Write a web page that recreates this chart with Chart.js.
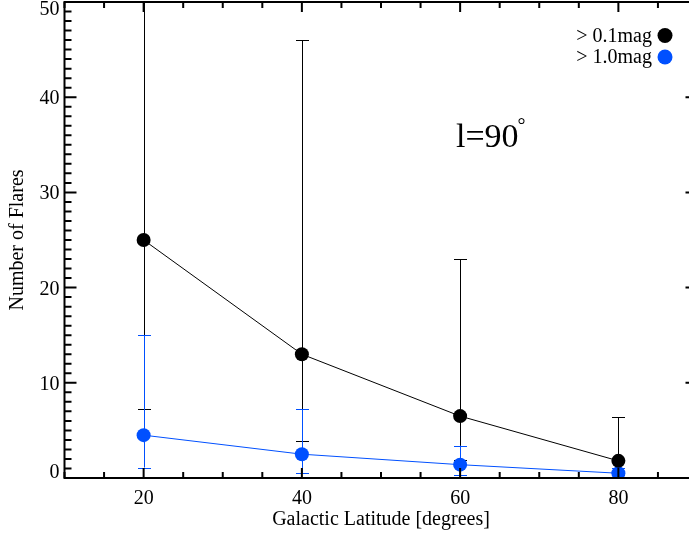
<!DOCTYPE html>
<html>
<head>
<meta charset="utf-8">
<script src="https://cdn.jsdelivr.net/npm/chart.js@4.4.0/dist/chart.umd.min.js"></script>
<style>
    body { margin: 0; overflow: hidden; background: #fff; }
</style>
</head>
<body>
<canvas id="myChart" width="712" height="533"></canvas>
<script>

var latitude = [20, 40, 60, 80];

// > 0.1 mag flares, with lower / upper ends of the error bars
var flaresSmall = [25, 13, 6.5, 1.8];
var flaresSmallLow = [7.3, 3.9, 1.9, 0.3];
var flaresSmallHigh = [60, 46, 23, 6.4];

// > 1.0 mag flares
var flaresBig = [4.5, 2.5, 1.4, 0.5];
var flaresBigLow = [1.1, 0.55, 0.3, 0];
var flaresBigHigh = [15, 7.2, 3.4, 1.0];

var seriesLabels = ['> 0.1mag', '> 1.0mag'];
var xTickValues = [20, 40, 60, 80];
var yTickValues = [0, 10, 20, 30, 40, 50];

var blue = '#0050ff';
var serif = "'Liberation Serif', 'DejaVu Serif', serif";

Chart.defaults.font.family = serif;
Chart.defaults.color = '#000';


// error bars, drawn under the markers
var errorBars = {
    id: 'errorBars',
    beforeDatasetsDraw: function (chart) {
        var ctx = chart.ctx;
        var a = chart.chartArea;
        var xs = chart.scales.x, ys = chart.scales.y;
        ctx.save();
        ctx.beginPath();
        ctx.rect(a.left, a.top, a.right - a.left, a.bottom - a.top);
        ctx.clip();
        chart.data.datasets.forEach(function (ds) {
            ctx.strokeStyle = ds.borderColor;
            ctx.lineWidth = 1;
            ctx.beginPath();
            for (var i = 0; i < ds.data.length; i++) {
                var x = Math.round(xs.getPixelForValue(latitude[i])) + 0.5;
                var lo = ys.getPixelForValue(ds.errLow[i]);
                var hi = ys.getPixelForValue(ds.errHigh[i]);
                ctx.moveTo(x, lo); ctx.lineTo(x, hi);
                ctx.moveTo(x - 6.5, Math.round(lo) + 0.5); ctx.lineTo(x + 6.5, Math.round(lo) + 0.5);
                ctx.moveTo(x - 6.5, Math.round(hi) + 0.5); ctx.lineTo(x + 6.5, Math.round(hi) + 0.5);
            }
            ctx.stroke();
        });
        ctx.restore();
    }
};


// IDL style box with inward ticks, y labels, legend and the l=90 note
var idlFrame = {
    id: 'idlFrame',
    afterDraw: function (chart) {
        var ctx = chart.ctx;
        var a = chart.chartArea;
        var xs = chart.scales.x, ys = chart.scales.y;
        var v, p, len;

        ctx.save();
        ctx.strokeStyle = '#000';
        ctx.lineWidth = 2;
        ctx.strokeRect(a.left, a.top, a.right - a.left, a.bottom - a.top);

        ctx.beginPath();
        for (v = xs.min; v <= xs.max; v += 5) {
            p = xs.getPixelForValue(v);
            len = (v % 20 === 0) ? 10 : 6;
            ctx.moveTo(p, a.bottom); ctx.lineTo(p, a.bottom - len);
            ctx.moveTo(p, a.top); ctx.lineTo(p, a.top + len);
        }
        for (v = ys.min; v <= ys.max; v += 1) {
            p = ys.getPixelForValue(v);
            len = (v % 10 === 0) ? 12 : 7;
            ctx.moveTo(a.left, p); ctx.lineTo(a.left + len, p);
            ctx.moveTo(a.right, p); ctx.lineTo(a.right - len, p);
        }
        ctx.stroke();

        // y tick labels, kept inside the frame like IDL does
        ctx.fillStyle = '#000';
        ctx.font = '20px ' + serif;
        ctx.textAlign = 'right';
        ctx.textBaseline = 'alphabetic';
        yTickValues.forEach(function (t) {
            var base = ys.getPixelForValue(t) + 7;
            base = Math.min(Math.max(base, a.top + 13), a.bottom);
            ctx.fillText(String(t), a.left - 5, base);
        });

        // legend: text then a filled circle
        var colors = chart.data.datasets.map(function (d) { return d.borderColor; });
        seriesLabels.forEach(function (lab, i) {
            var cy = 35.5 + i * 21.5;
            ctx.fillStyle = '#000';
            ctx.fillText(lab, 652, cy + 6);
            ctx.fillStyle = colors[i];
            ctx.beginPath();
            ctx.arc(665, cy, 7.5, 0, Math.PI * 2);
            ctx.fill();
        });

        ctx.fillStyle = '#000';
        ctx.textAlign = 'left';
        ctx.font = '34px ' + serif;
        ctx.fillText('l=90', 456, 147);
        ctx.font = '20px ' + serif;
        ctx.fillText('\u00b0', 517.5, 131.5);
        ctx.restore();
    }
};


var ctx = document.getElementById('myChart');
var myChart = new Chart(ctx, {
    type: 'line',
    data: {
        datasets: [{
            label: seriesLabels[0],
            data: latitude.map(function (x, i) { return { x: x, y: flaresSmall[i] }; }),
            errLow: flaresSmallLow,
            errHigh: flaresSmallHigh,
            borderColor: '#000',
            backgroundColor: '#000',
            borderWidth: 1,
            pointRadius: 7,
            pointBorderWidth: 0,
            pointBackgroundColor: '#000',
            clip: 0
        }, {
            label: seriesLabels[1],
            data: latitude.map(function (x, i) { return { x: x, y: flaresBig[i] }; }),
            errLow: flaresBigLow,
            errHigh: flaresBigHigh,
            borderColor: blue,
            backgroundColor: blue,
            borderWidth: 1,
            pointRadius: 7,
            pointBorderWidth: 0,
            pointBackgroundColor: blue,
            clip: 0
        }]
    },

    plugins: [errorBars, idlFrame],

    options: {
        responsive: false,
        animation: false,
        layout: {
            autoPadding: false,
            padding: { top: 2, right: 14.5, left: 0, bottom: 0 }
        },
        plugins: {
            legend: { display: false },
            tooltip: { enabled: false }
        },
        scales: {
            x: {
                type: 'linear',
                min: 10,
                max: 90,
                afterBuildTicks: function (scale) {
                    scale.ticks = xTickValues.map(function (v) { return { value: v }; });
                },
                afterFit: function (scale) { scale.height = 55; },
                grid: { display: false },
                border: { display: false },
                ticks: {
                    font: { size: 20 },
                    color: '#000',
                    padding: 1,
                    maxRotation: 0
                },
                title: {
                    display: true,
                    text: 'Galactic Latitude [degrees]',
                    font: { size: 20 },
                    color: '#000',
                    padding: { top: 0, bottom: 1 }
                }
            },
            y: {
                min: 0,
                max: 50,
                afterFit: function (scale) { scale.width = 64.5; },
                grid: { display: false },
                border: { display: false },
                ticks: { display: false },
                title: {
                    display: true,
                    text: 'Number of Flares',
                    font: { size: 20 },
                    color: '#000',
                    padding: { top: 6, bottom: 0 }
                }
            }
        }
    }
});

</script>
</body>
</html>
